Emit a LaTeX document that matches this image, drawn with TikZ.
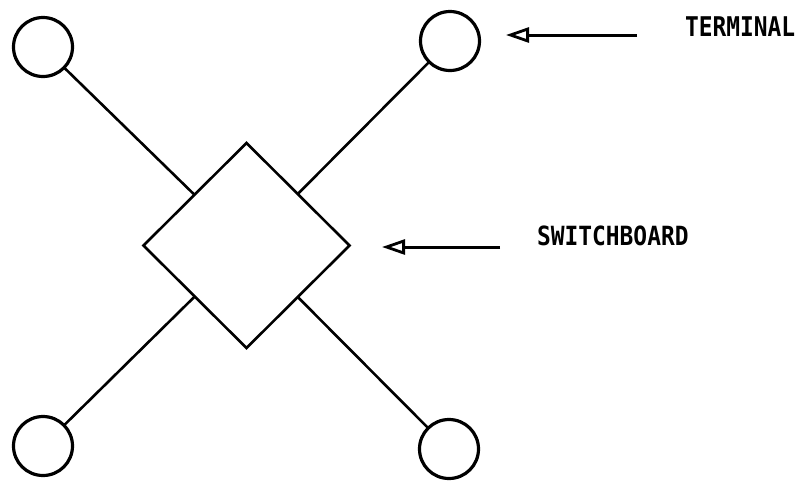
\documentclass[tikz,border=0pt]{standalone}
\usepackage{fontspec}
\newfontfamily\labfont{DejaVu Sans Mono}
\usetikzlibrary{shapes.geometric,arrows.meta}
\begin{document}
\begin{tikzpicture}[x=1pt,y=-1pt,
  term/.style={circle,draw,line width=3.2pt,minimum size=59pt,inner sep=0pt,outer sep=0pt},
  board/.style={diamond,draw,line width=2.6pt,minimum width=206pt,minimum height=205pt,inner sep=0pt,outer sep=0pt},
  link/.style={line width=2.6pt},
  pointer/.style={line width=3pt,-{Triangle[open,length=23pt,width=15pt,line width=2.8pt]}},
  lab/.style={inner sep=0pt,outer sep=0pt,anchor=base west,font=\labfont\bfseries\fontsize{23.6pt}{26pt}\selectfont}]
\useasboundingbox (0,0) rectangle (803,483);
\node[board] (sw) at (246.5,245.5) {};
\node[term] (tl) at (43,47) {};
\node[term] (tr) at (450,41) {};
\node[term] (bl) at (43,446) {};
\node[term] (br) at (449,449) {};
\draw[link] (tl) -- (sw);
\draw[link] (tr) -- (sw);
\draw[link] (bl) -- (sw);
\draw[link] (br) -- (sw);
\node[lab] (tlab) at (685,36) {\scalebox{0.97}[1.15]{TERMINAL}};
\node[lab] (slab) at (537,245) {\scalebox{0.97}[1.12]{SWITCHBOARD}};
\coordinate (ta) at (637,35);
\coordinate (tb) at (506,35);
\coordinate (sa) at (500,247);
\coordinate (sb) at (382,247);
\draw[pointer] (ta) -- (tb);
\draw[pointer] (sa) -- (sb);
\end{tikzpicture}
\end{document}
